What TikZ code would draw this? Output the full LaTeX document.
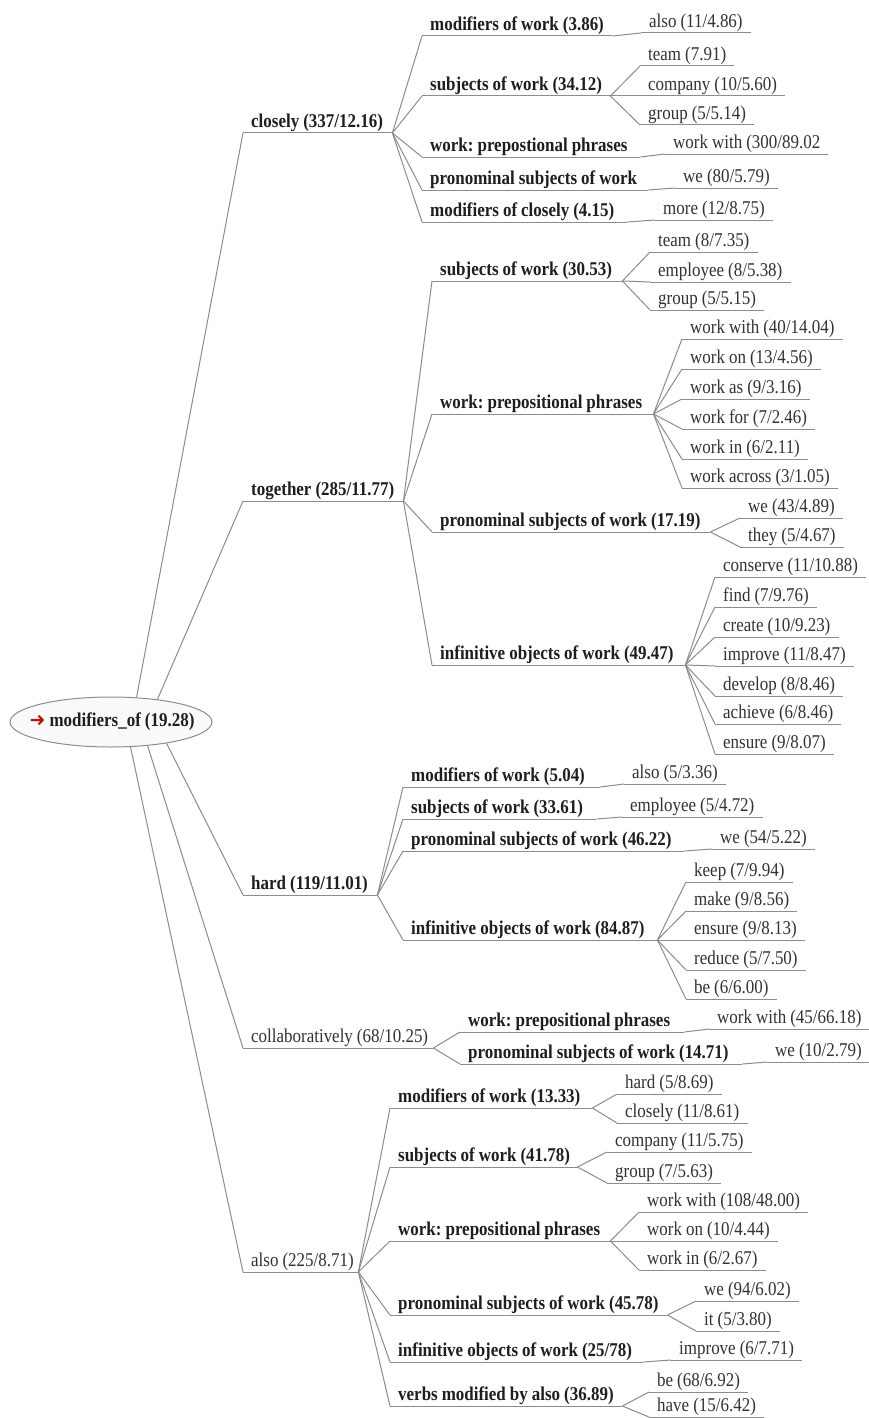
\documentclass[tikz,border=0pt]{standalone}
\usepackage{fontspec}
\setmainfont[FakeStretch=0.87,WordSpace=0.95]{Liberation Serif}
\newfontfamily\arrowfont{DejaVu Sans}
\usetikzlibrary{shapes.geometric}
\definecolor{lncol}{RGB}{140,140,140}
\definecolor{txtcol}{RGB}{30,30,30}
\definecolor{regcol}{RGB}{50,50,50}
\definecolor{arrowred}{RGB}{175,25,10}
\frenchspacing
\newcommand{\tinner}[6]{%
  \pgfmathsetmacro\tw{#4-#3-16}%
  \node[#2, text width=\tw pt] (#1) at (#3,#5) {\mbox{\spaceskip=0pt\relax\xspaceskip=0pt\relax #6}};%
  \draw[ln] (#1.south west) -- (#1.south east);}
\newcommand{\tleaf}[4]{%
  \node[rnode] (#1) at (#2,#3) {#4};%
  \draw[ln] (#1.south west) -- (#1.south east);}
\newcommand{\tconn}[2]{\draw[ln] (#1.south east) -- (#2.south west);}
\begin{document}
\begin{tikzpicture}[x=1pt,y=-1pt,
  ln/.style={draw=lncol, line width=1pt},
  tbase/.style={inner xsep=8pt, inner ysep=5pt, text depth=0pt, text height=14pt,
    anchor=south west, align=left},
  bnode/.style={tbase, font=\fontsize{19.5}{22}\selectfont\bfseries, text=txtcol},
  rnode/.style={tbase, font=\fontsize{19.5}{22}\selectfont, text=regcol},
  rootstyle/.style={ellipse, draw=lncol, line width=1pt, fill=gray!5,
    minimum width=202pt, minimum height=50pt, inner sep=0pt},
  roottext/.style={font=\fontsize{19.5}{22}\selectfont\bfseries, text=txtcol, inner sep=0pt}]
\useasboundingbox (0,0) rectangle (869,1418);
\fill[white] (0,0) rectangle (869,1418);

% root
\node[rootstyle] (root) at (111,722) {};
\node[roottext] (roottxt) at (112,722) {{\arrowfont\fontsize{19}{20}\selectfont\color{arrowred}➜}\ modifiers\_of (19.28)};

% level 1
\tinner{closely}{bnode}{243}{392}{133}{closely (337/12.16)}
\tinner{together}{bnode}{243}{403}{501}{together (285/11.77)}
\tinner{hard}{bnode}{243}{377}{895}{hard (119/11.01)}
\tinner{collab}{rnode}{243}{433}{1048}{collaboratively (68/10.25)}
\tinner{also}{rnode}{243}{358}{1272}{also (225/8.71)}

\draw[ln] (root.44) -- (closely.south west);
\draw[ln] (root.26.5) -- (together.south west);
\draw[ln] (root.-21.5) -- (hard.south west);
\draw[ln] (root.-33) -- (collab.south west);
\draw[ln] (root.-52.3) -- (also.south west);

% closely branch
\tinner{c-mow}{bnode}{422}{612}{36}{modifiers of work (3.86)}
\tinner{c-sow}{bnode}{422}{610}{96}{subjects of work (34.12)}
\tinner{c-wpp}{bnode}{422}{640}{157}{work: prepostional phrases}
\tinner{c-psw}{bnode}{422}{648}{190}{pronominal subjects of work}
\tinner{c-moc}{bnode}{422}{627}{222}{modifiers of closely (4.15)}
\foreach \c in {c-mow,c-sow,c-wpp,c-psw,c-moc} {\tconn{closely}{\c}}

\tleaf{c-mow-1}{641}{33}{also (11/4.86)}
\tleaf{c-sow-1}{640}{66}{team (7.91)}
\tleaf{c-sow-2}{640}{96}{company (10/5.60)}
\tleaf{c-sow-3}{640}{125}{group (5/5.14)}
\tleaf{c-wpp-1}{665}{154}{work with (300/89.02}
\tleaf{c-psw-1}{675}{188}{we (80/5.79)}
\tleaf{c-moc-1}{655}{220}{more (12/8.75)}
\tconn{c-mow}{c-mow-1}
\tconn{c-sow}{c-sow-1}
\tconn{c-sow}{c-sow-2}
\tconn{c-sow}{c-sow-3}
\tconn{c-wpp}{c-wpp-1}
\tconn{c-psw}{c-psw-1}
\tconn{c-moc}{c-moc-1}

% together branch
\tinner{t-sow}{bnode}{432}{622}{281}{subjects of work (30.53)}
\tinner{t-wpp}{bnode}{432}{653}{414}{work: prepositional phrases}
\tinner{t-psw}{bnode}{432}{710}{532}{pronominal subjects of work (17.19)}
\tinner{t-iow}{bnode}{432}{685}{665}{infinitive objects of work (49.47)}
\foreach \c in {t-sow,t-wpp,t-psw,t-iow} {\tconn{together}{\c}}

\tleaf{t-sow-1}{650}{252}{team (8/7.35)}
\tleaf{t-sow-2}{650}{282}{employee (8/5.38)}
\tleaf{t-sow-3}{650}{310}{group (5/5.15)}
\foreach \c in {t-sow-1,t-sow-2,t-sow-3} {\tconn{t-sow}{\c}}

\tleaf{t-wpp-1}{682}{339}{work with (40/14.04)}
\tleaf{t-wpp-2}{682}{369}{work on (13/4.56)}
\tleaf{t-wpp-3}{682}{399}{work as (9/3.16)}
\tleaf{t-wpp-4}{682}{429}{work for (7/2.46)}
\tleaf{t-wpp-5}{682}{459}{work in (6/2.11)}
\tleaf{t-wpp-6}{682}{488}{work across (3/1.05)}
\foreach \c in {t-wpp-1,t-wpp-2,t-wpp-3,t-wpp-4,t-wpp-5,t-wpp-6} {\tconn{t-wpp}{\c}}

\tleaf{t-psw-1}{740}{518}{we (43/4.89)}
\tleaf{t-psw-2}{740}{547}{they (5/4.67)}
\foreach \c in {t-psw-1,t-psw-2} {\tconn{t-psw}{\c}}

\tleaf{t-iow-1}{715}{577}{conserve (11/10.88)}
\tleaf{t-iow-2}{715}{607}{find (7/9.76)}
\tleaf{t-iow-3}{715}{637}{create (10/9.23)}
\tleaf{t-iow-4}{715}{666}{improve (11/8.47)}
\tleaf{t-iow-5}{715}{696}{develop (8/8.46)}
\tleaf{t-iow-6}{715}{724}{achieve (6/8.46)}
\tleaf{t-iow-7}{715}{754}{ensure (9/8.07)}
\foreach \c in {t-iow-1,t-iow-2,t-iow-3,t-iow-4,t-iow-5,t-iow-6,t-iow-7} {\tconn{t-iow}{\c}}

% hard branch
\tinner{h-mow}{bnode}{403}{600}{787}{modifiers of work (5.04)}
\tinner{h-sow}{bnode}{403}{596}{819}{subjects of work (33.61)}
\tinner{h-psw}{bnode}{403}{684}{851}{pronominal subjects of work (46.22)}
\tinner{h-iow}{bnode}{403}{657}{940}{infinitive objects of work (84.87)}
\foreach \c in {h-mow,h-sow,h-psw,h-iow} {\tconn{hard}{\c}}

\tleaf{h-mow-1}{624}{784}{also (5/3.36)}
\tleaf{h-sow-1}{622}{817}{employee (5/4.72)}
\tleaf{h-psw-1}{712}{849}{we (54/5.22)}
\tconn{h-mow}{h-mow-1}
\tconn{h-sow}{h-sow-1}
\tconn{h-psw}{h-psw-1}

\tleaf{h-iow-1}{686}{882}{keep (7/9.94)}
\tleaf{h-iow-2}{686}{911}{make (9/8.56)}
\tleaf{h-iow-3}{686}{940}{ensure (9/8.13)}
\tleaf{h-iow-4}{686}{970}{reduce (5/7.50)}
\tleaf{h-iow-5}{686}{999}{be (6/6.00)}
\foreach \c in {h-iow-1,h-iow-2,h-iow-3,h-iow-4,h-iow-5} {\tconn{h-iow}{\c}}

% collaboratively branch
\tinner{co-wpp}{bnode}{460}{684}{1032}{work: prepositional phrases}
\tinner{co-psw}{bnode}{460}{742}{1064}{pronominal subjects of work (14.71)}
\foreach \c in {co-wpp,co-psw} {\tconn{collab}{\c}}
\tleaf{co-wpp-1}{709}{1029}{work with (45/66.18)}
\tleaf{co-psw-1}{767}{1062}{we (10/2.79)}
\tconn{co-wpp}{co-wpp-1}
\tconn{co-psw}{co-psw-1}

% also branch
\tinner{a-mow}{bnode}{390}{592}{1108}{modifiers of work (13.33)}
\tinner{a-sow}{bnode}{390}{577}{1167}{subjects of work (41.78)}
\tinner{a-wpp}{bnode}{390}{610}{1241}{work: prepositional phrases}
\tinner{a-psw}{bnode}{390}{667}{1315}{pronominal subjects of work (45.78)}
\tinner{a-iow}{bnode}{390}{643}{1362}{infinitive objects of work (25/78)}
\tinner{a-vma}{bnode}{390}{622}{1406}{verbs modified by also (36.89)}
\foreach \c in {a-mow,a-sow,a-wpp,a-psw,a-iow,a-vma} {\tconn{also}{\c}}

\tleaf{a-mow-1}{617}{1094}{hard (5/8.69)}
\tleaf{a-mow-2}{617}{1123}{closely (11/8.61)}
\foreach \c in {a-mow-1,a-mow-2} {\tconn{a-mow}{\c}}
\tleaf{a-sow-1}{607}{1152}{company (11/5.75)}
\tleaf{a-sow-2}{607}{1183}{group (7/5.63)}
\foreach \c in {a-sow-1,a-sow-2} {\tconn{a-sow}{\c}}
\tleaf{a-wpp-1}{639}{1212}{work with (108/48.00)}
\tleaf{a-wpp-2}{639}{1241}{work on (10/4.44)}
\tleaf{a-wpp-3}{639}{1270}{work in (6/2.67)}
\foreach \c in {a-wpp-1,a-wpp-2,a-wpp-3} {\tconn{a-wpp}{\c}}
\tleaf{a-psw-1}{696}{1301}{we (94/6.02)}
\tleaf{a-psw-2}{696}{1331}{it (5/3.80)}
\foreach \c in {a-psw-1,a-psw-2} {\tconn{a-psw}{\c}}
\tleaf{a-iow-1}{671}{1360}{improve (6/7.71)}
\tconn{a-iow}{a-iow-1}
\tleaf{a-vma-1}{649}{1392}{be (68/6.92)}
\tleaf{a-vma-2}{649}{1417}{have (15/6.42)}
\foreach \c in {a-vma-1,a-vma-2} {\tconn{a-vma}{\c}}
\end{tikzpicture}
\end{document}
